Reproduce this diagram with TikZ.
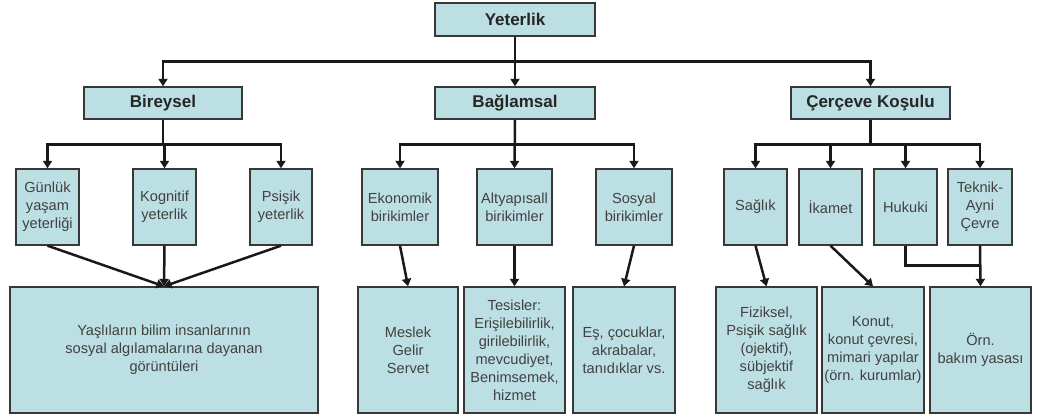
\documentclass[tikz,border=0pt]{standalone}
\usepackage{fontspec}
\setmainfont{Liberation Sans}
\usetikzlibrary{arrows.meta,calc}
\definecolor{boxfill}{RGB}{188,223,227}
\definecolor{edgecol}{RGB}{55,55,55}
\definecolor{txtcol}{RGB}{65,65,65}
\definecolor{linecol}{RGB}{25,25,25}
\begin{document}
\begin{tikzpicture}[x=1pt,y=-1pt,
  box/.style={draw=edgecol,line width=1.4pt,fill=boxfill,inner sep=0pt,align=center,text=txtcol,font=\fontsize{14.6}{18}\selectfont},
  head/.style={box,font=\fontsize{17}{20}\selectfont\bfseries,text=black!85},
  arr/.style={draw=linecol,line width=2.5pt,-{Triangle[length=7.5pt,width=9pt]}},
  conn/.style={draw=linecol,line width=2.5pt}]
\useasboundingbox (0,0) rectangle (1038,419);
% level 1
\node[head,minimum width=160pt,minimum height=33pt] (yet) at (515,19.5) {Yeterlik};
% level 2
\node[head,minimum width=158pt,minimum height=32pt] (bir) at (163,103) {Bireysel};
\node[head,minimum width=160pt,minimum height=32pt] (bag) at (515,103) {Bağlamsal};
\node[head,minimum width=159pt,minimum height=32pt] (cer) at (870.5,103) {Çerçeve Koşulu};
% level 3
\node[box,minimum width=63pt,minimum height=76pt] (gun) at (47.5,207) {Günlük\\yaşam\\yeterliği};
\node[box,minimum width=63pt,minimum height=76pt] (kog) at (164.5,207) {Kognitif\\yeterlik};
\node[box,minimum width=62pt,minimum height=76pt] (psi) at (281,207) {Psişik\\yeterlik};
\node[box,minimum width=76pt,minimum height=76pt] (eko) at (400,207) {Ekonomik\\birikimler};
\node[box,minimum width=75pt,minimum height=76pt] (alt) at (514.5,207) {Altyapısall\\birikimler};
\node[box,minimum width=76pt,minimum height=76pt] (sos) at (634,207) {Sosyal\\birikimler};
\node[box,minimum width=63pt,minimum height=76pt] (sag) at (755.5,207) {Sağlık};
\node[box,minimum width=63pt,minimum height=76pt] (ika) at (830.5,207) {İkamet};
\node[box,minimum width=63pt,minimum height=76pt] (huk) at (905.5,207) {Hukuki};
\node[box,minimum width=64pt,minimum height=76pt] (tek) at (980,207) {Teknik-\\Ayni\\Çevre};
% level 4
\node[box,minimum width=308pt,minimum height=126pt] (yas) at (164,350) {Yaşlıların bilim insanlarının\\sosyal algılamalarına dayanan\\görüntüleri};
\node[box,minimum width=100pt,minimum height=126pt] (mes) at (408,350) {Meslek\\Gelir\\Servet};
\node[box,minimum width=101pt,minimum height=126pt] (tes) at (514.5,350) {Tesisler:\\Erişilebilirlik,\\girilebilirlik,\\mevcudiyet,\\Benimsemek,\\hizmet};
\node[box,minimum width=102pt,minimum height=126pt] (es) at (624,350) {Eş, çocuklar,\\akrabalar,\\tanıdıklar vs.};
\node[box,minimum width=101pt,minimum height=126pt] (fiz) at (766.5,350) {Fiziksel,\\Psişik sağlık\\(ojektif),\\sübjektif\\sağlık};
\node[box,minimum width=102pt,minimum height=126pt] (kon) at (873,350) {Konut,\\konut çevresi,\\mimari yapılar\\(örn. kurumlar)};
\node[box,minimum width=101pt,minimum height=126pt] (orn) at (980.5,350) {Örn.\\bakım yasası};
% level 1 -> 2
\draw[arr] (yet.south) -- ++(0,25) -| (bir.north);
\draw[arr] (yet.south) -- (bag.north);
\draw[arr] (yet.south) -- ++(0,25) -| (cer.north);
% level 2 -> 3
\draw[arr] (bir.south) -- ++(0,25) -| (gun.north);
\draw[arr] (bir.south) -- ++(0,25) -| (kog.north);
\draw[arr] (bir.south) -- ++(0,25) -| (psi.north);
\draw[arr] (bag.south) -- ++(0,25) -| (eko.north);
\draw[arr] (bag.south) -- (alt.north);
\draw[arr] (bag.south) -- ++(0,25) -| (sos.north);
\draw[arr] (cer.south) -- ++(0,25) -| (sag.north);
\draw[arr] (cer.south) -- ++(0,25) -| (ika.north);
\draw[arr] (cer.south) -- ++(0,25) -| (huk.north);
\draw[arr] (cer.south) -- ++(0,25) -| (tek.north);
% level 3 -> 4
\draw[arr] (gun.south) -- (yas.north);
\draw[arr] (kog.south) -- (yas.north);
\draw[arr] (psi.south) -- (yas.north);
\draw[arr] (eko.south) -- (mes.north);
\draw[arr] (alt.south) -- (tes.north);
\draw[arr] (sos.south) -- (es.north);
\draw[arr] (sag.south) -- (fiz.north);
\draw[arr] (ika.south) -- (kon.north);
\coordinate (hj) at ($(tek.south)+(0,20)$);
\draw[conn] (huk.south) |- (hj);
\draw[arr] (tek.south) -- (orn.north);
\end{tikzpicture}
\end{document}
